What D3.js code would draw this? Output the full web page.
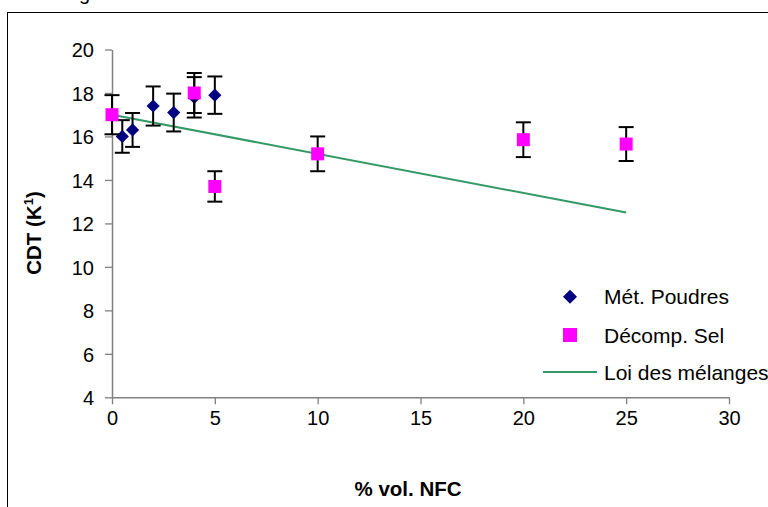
<!DOCTYPE html>
<html><head><meta charset="utf-8">
<script src="https://cdn.jsdelivr.net/npm/d3@7"></script>
<style>body{margin:0;background:#fff}svg{display:block}text{font-family:Arial,"Liberation Sans",sans-serif}</style>
</head><body><svg id="c" width="768" height="507"></svg>
<script>
const xTicks=[0,5,10,15,20,25,30];
const yTicks=[4,6,8,10,12,14,16,18,20];
const metX=[0.5,1,2,3,4,5];
const metY=[16.0,16.3,17.4,17.1,17.8,17.9];
const metErr=[0.75,0.78,0.9,0.87,0.93,0.86];
const selX=[0,4,5,10,20,25];
const selY=[17.0,18.0,13.7,15.2,15.85,15.65];
const selErr=[0.9,0.92,0.7,0.8,0.8,0.78];
const loiX=[0,25];
const loiY=[17.0,12.5];
const seriesNames=["Mét. Poudres","Décomp. Sel","Loi des mélanges"];

const svg=d3.select("#c");
const x=d3.scaleLinear().domain([0,30]).range([112,729]);
const y=d3.scaleLinear().domain([4,20]).range([397.3,49.5]);
const C_MET="#000080",C_SEL="#FF00FF",C_LOI="#339966",C_AX="#808080";

// partial caption above frame
svg.append("text").attr("x",79).attr("y",0).attr("font-size",20).text("g");
// frame
svg.append("rect").attr("x",7.5).attr("y",12.5).attr("width",800).attr("height",600)
  .attr("fill","none").attr("stroke","#000").attr("stroke-width",1);

// axes
const xa=svg.append("g").attr("transform",`translate(0,${y(4)})`)
  .call(d3.axisBottom(x).tickValues(xTicks).tickSize(7).tickSizeOuter(0).tickPadding(0));
xa.select(".domain").attr("stroke",C_AX).attr("stroke-width",1.5);
xa.selectAll(".tick line").attr("stroke",C_AX).attr("stroke-width",1.3);
xa.selectAll(".tick text").attr("font-size",20).attr("fill","#000").attr("dy",0).attr("y",28)
  .attr("font-family","Arial,'Liberation Sans',sans-serif");

const ya=svg.append("g").attr("transform",`translate(${x(0)},0)`)
  .call(d3.axisLeft(y).tickValues(yTicks).tickSize(7).tickSizeOuter(0).tickPadding(11));
ya.select(".domain").attr("stroke",C_AX).attr("stroke-width",1.5);
ya.selectAll(".tick line").attr("stroke",C_AX).attr("stroke-width",1.3);
ya.selectAll(".tick text").attr("font-size",20).attr("fill","#000").attr("dy","0.36em")
  .attr("font-family","Arial,'Liberation Sans',sans-serif");

// titles
svg.append("text").attr("x",408).attr("y",496).attr("text-anchor","middle")
  .attr("font-size",20.5).attr("font-weight","bold").text("% vol. NFC");
const yt=svg.append("text").attr("transform","translate(40.5,233) rotate(-90)")
  .attr("text-anchor","middle").attr("font-size",20.5).attr("font-weight","bold");
yt.append("tspan").text("CDT (K");
yt.append("tspan").attr("font-size",13).attr("dy",-8).text("1");
yt.append("tspan").attr("dy",8).text(")");

// mixture line
const line=d3.line().x(d=>x(d[0])).y(d=>y(d[1]));
svg.append("path").datum(d3.zip(loiX,loiY)).attr("d",line)
  .attr("fill","none").attr("stroke",C_LOI).attr("stroke-width",2);

function errBars(xs,ys,es){
  const g=svg.append("g").attr("stroke","#000").attr("stroke-width",2);
  xs.forEach((xv,i)=>{
    const cx=x(xv),y1=y(ys[i]+es[i]),y2=y(ys[i]-es[i]);
    g.append("line").attr("x1",cx).attr("x2",cx).attr("y1",y1).attr("y2",y2);
    g.append("line").attr("x1",cx-7.5).attr("x2",cx+7.5).attr("y1",y1).attr("y2",y1);
    g.append("line").attr("x1",cx-7.5).attr("x2",cx+7.5).attr("y1",y2).attr("y2",y2);
  });
}
function diamond(cx,cy,r){return `M${cx},${cy-r}L${cx+r},${cy}L${cx},${cy+r}L${cx-r},${cy}Z`;}

errBars(metX,metY,metErr);
svg.append("g").selectAll("path").data(d3.zip(metX,metY)).join("path")
  .attr("d",d=>diamond(x(d[0]),y(d[1]),6.6)).attr("fill",C_MET);
errBars(selX,selY,selErr);
svg.append("g").selectAll("rect").data(d3.zip(selX,selY)).join("rect")
  .attr("x",d=>x(d[0])-6.5).attr("y",d=>y(d[1])-6.5).attr("width",13).attr("height",13)
  .attr("fill",C_SEL);

// legend
const lg=svg.append("g");
const rows=[296.7,335,372];
lg.append("path").attr("d",diamond(570,rows[0],7)).attr("fill",C_MET);
lg.append("rect").attr("x",563).attr("y",rows[1]-7).attr("width",14).attr("height",14).attr("fill",C_SEL);
lg.append("line").attr("x1",543).attr("x2",597).attr("y1",rows[2]).attr("y2",rows[2])
  .attr("stroke",C_LOI).attr("stroke-width",2);
seriesNames.forEach((n,i)=>{
  lg.append("text").attr("x",604).attr("y",rows[i]).attr("dy","0.36em")
    .attr("font-size",21).text(n);
});
</script></body></html>
